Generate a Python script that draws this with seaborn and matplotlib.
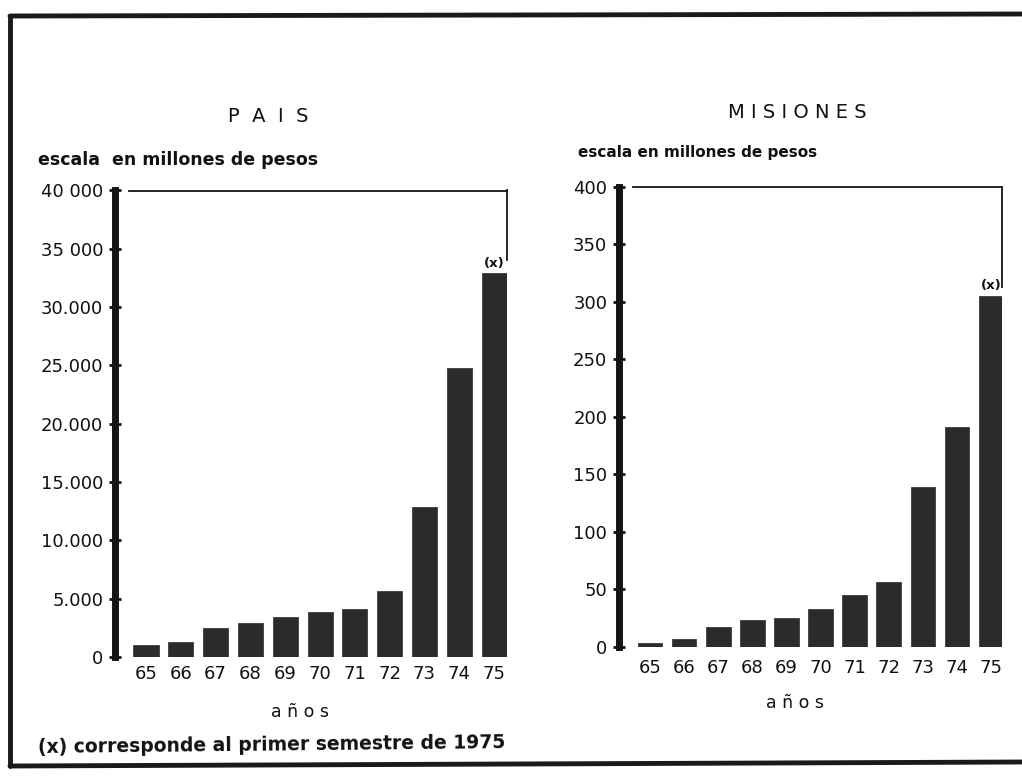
import matplotlib
matplotlib.use("Agg")
import matplotlib.pyplot as plt
import seaborn as sns
import pandas as pd
from matplotlib.lines import Line2D

# ---- data ----
years = ["65", "66", "67", "68", "69", "70", "71", "72", "73", "74", "75"]
pais_values = [1000, 1250, 2450, 2950, 3400, 3900, 4150, 5650, 12900, 24800, 32900]
misiones_values = [3.5, 7, 17, 23.5, 25, 33, 45, 56.5, 139, 191, 305]
pais_ticks = [0, 5000, 10000, 15000, 20000, 25000, 30000, 35000, 40000]
pais_ticklabels = ["0", "5.000", "10.000", "15.000", "20.000", "25.000", "30.000", "35 000", "40 000"]
mis_ticks = [0, 50, 100, 150, 200, 250, 300, 350, 400]
mis_ticklabels = ["0", "50", "100", "150", "200", "250", "300", "350", "400"]

sns.set_style("white")
plt.rcParams["font.family"] = ["DejaVu Sans"]
plt.rcParams["text.color"] = "#111111"
plt.rcParams["xtick.color"] = "#111111"
plt.rcParams["ytick.color"] = "#111111"
plt.rcParams["xtick.labelcolor"] = "#111111"
plt.rcParams["ytick.labelcolor"] = "#111111"

fig = plt.figure(figsize=(10.22, 7.78), dpi=100)
fig.patch.set_facecolor("white")

BAR = "#2b2b2b"

def panel(rect, vals, ymax, ticks, ticklabels, bracket_low, xlim, title, title_xy,
          subtitle, sub_xy, sub_size, anos_xy, xpad):
    ax = fig.add_axes(rect)
    df = pd.DataFrame({"year": years, "value": vals})
    sns.barplot(data=df, x="year", y="value", color=BAR, width=0.72,
                saturation=1, ax=ax, edgecolor=BAR, linewidth=0.5)
    ax.set_xlim(*xlim)
    ax.set_ylim(0, ymax)
    ax.set_yticks(ticks)
    ax.set_yticklabels(ticklabels, fontsize=13)
    for lab in ax.get_xticklabels():
        lab.set_fontsize(13)
    ax.set_xlabel("")
    ax.set_ylabel("")
    ax.tick_params(axis="x", length=0, pad=xpad)
    ax.tick_params(axis="y", direction="inout", length=9, width=2, pad=4, left=True)
    for s in ["left", "top", "right"]:
        ax.spines[s].set_visible(True)
    ax.spines["bottom"].set_visible(False)
    ax.spines["left"].set_linewidth(5)
    ax.spines["left"].set_color("#151515")
    ax.spines["top"].set_linewidth(1.3)
    ax.spines["top"].set_color("#151515")
    ax.spines["top"].set_bounds(xlim[0] + 0.4, xlim[1])
    ax.spines["right"].set_linewidth(1.3)
    ax.spines["right"].set_color("#151515")
    ax.spines["right"].set_bounds(bracket_low, ymax)
    ax.set_facecolor("none")
    # (x) annotation over the last bar
    ax.text(len(years) - 1, vals[-1] + ymax * 0.008, "(x)", ha="center", va="bottom",
            fontsize=9.5, fontweight="bold")
    fig.text(title_xy[0] / 1022, 1 - title_xy[1] / 778, title, ha="center", va="center",
             fontsize=14)
    fig.text(sub_xy[0] / 1022, 1 - sub_xy[1] / 778, subtitle,
             ha="left", va="center", fontsize=sub_size, fontweight="bold")
    fig.text(anos_xy[0] / 1022, 1 - anos_xy[1] / 778, "a ñ o s", ha="center", va="center",
             fontsize=12.5)
    return ax

panel([115 / 1022, (778 - 657) / 778, (507 - 115) / 1022, (657 - 190.5) / 778],
      pais_values, 40000, pais_ticks, pais_ticklabels, 34000, (-0.89, 10.37),
      "P  A  I  S", (268, 117), "escala  en millones de pesos", (38, 160), 12.5,
      (300, 712), 6)

panel([619 / 1022, (778 - 646.7) / 778, (1002 - 619) / 1022, (646.7 - 186.7) / 778],
      misiones_values, 400, mis_ticks, mis_ticklabels, 313, (-0.91, 10.32),
      "M I S I O N E S", (797, 113), "escala en millones de pesos", (578, 153), 11,
      (795, 703), 9)

fig.text(38 / 1022, 1 - 748 / 778, "(x) corresponde al primer semestre de 1975",
         ha="left", va="center", fontsize=13.5, fontweight="bold", rotation=0.6,
         rotation_mode="anchor")

# scanned page frame
frame_kw = dict(color="#1a1a1a", linewidth=3.5, transform=fig.transFigure)
fig.add_artist(Line2D([10 / 1022, 1.0], [1 - 16 / 778, 1 - 14 / 778], **frame_kw))
fig.add_artist(Line2D([10 / 1022, 10 / 1022], [1 - 16 / 778, 1 - 766 / 778], **frame_kw))
fig.add_artist(Line2D([10 / 1022, 1.0], [1 - 766 / 778, 1 - 762 / 778], **frame_kw))

fig.savefig("out.png", dpi=100, facecolor=fig.get_facecolor())
